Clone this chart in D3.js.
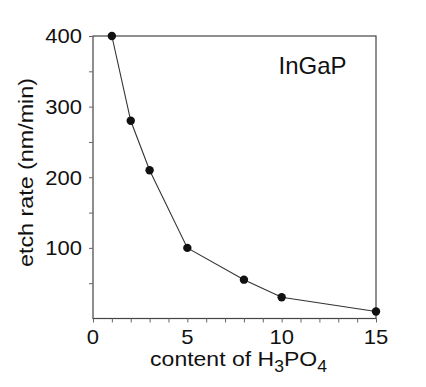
<!DOCTYPE html>
<html>
<head>
<meta charset="utf-8">
<script src="https://cdn.jsdelivr.net/npm/d3@7"></script>
<style>
  body { margin: 0; background: #fff; }
  text { font-family: "Liberation Sans", Arial, sans-serif; fill: #111; }
</style>
</head>
<body>
<svg width="426" height="387"></svg>
<script>
// data
var h3po4 = [1, 2, 3, 5, 8, 10, 15];
var etchRate = [400, 280, 210, 100, 55, 30, 10];
var xTickLabels = [0, 5, 10, 15];
var yTickLabels = [100, 200, 300, 400];

var svg = d3.select('svg');
var x = d3.scaleLinear().domain([0, 15]).range([93, 376]);
var y = d3.scaleLinear().domain([0, 400]).range([318.5, 36]);

// stretch a text element horizontally so it spans the given width
function fitWidth(sel, width, cx) {
  var w = sel.node().getComputedTextLength();
  var k = width / w;
  sel.attr('transform', 'translate(' + cx + ',0) scale(' + k + ',1) translate(' + (-cx) + ',0)');
}

// frame
svg.append('rect')
  .attr('x', x(0)).attr('y', y(400))
  .attr('width', x(15) - x(0)).attr('height', y(0) - y(400))
  .attr('fill', 'none').attr('stroke', '#444').attr('stroke-width', 1.2);

// x axis: minor ticks every unit, labels every 5
var xAxis = svg.append('g').attr('transform', 'translate(0,' + y(0) + ')')
  .call(d3.axisBottom(x).tickValues(d3.range(0, 16, 1)).tickSize(4).tickFormat(''));
xAxis.select('.domain').remove();
xAxis.selectAll('line').attr('stroke', '#666');

svg.selectAll('.xlab').data(xTickLabels).enter().append('text')
  .attr('class', 'xlab')
  .attr('x', function(d) { return x(d); }).attr('y', 344)
  .attr('text-anchor', 'middle').attr('font-size', 20)
  .each(function(d) {
    var t = d3.select(this).text(d);
    fitWidth(t, t.node().getComputedTextLength() * 1.1, x(d));
  });

// y axis: ticks every 50, labels every 100
var yAxis = svg.append('g').attr('transform', 'translate(' + x(0) + ',0)')
  .call(d3.axisLeft(y).tickValues(d3.range(50, 401, 50)).tickSize(4).tickFormat(''));
yAxis.select('.domain').remove();
yAxis.selectAll('line').attr('stroke', '#666');

svg.selectAll('.ylab').data(yTickLabels).enter().append('text')
  .attr('class', 'ylab')
  .attr('x', 82).attr('y', function(d) { return y(d) + 7.3; })
  .attr('text-anchor', 'end').attr('font-size', 20)
  .each(function(d) {
    var t = d3.select(this).text(d);
    fitWidth(t, t.node().getComputedTextLength() * 1.1, 82);
  });

// line + markers
var pts = h3po4.map(function(d, i) { return [d, etchRate[i]]; });
svg.append('path').datum(pts)
  .attr('fill', 'none').attr('stroke', '#333').attr('stroke-width', 1.1)
  .attr('d', d3.line().x(function(d) { return x(d[0]); }).y(function(d) { return y(d[1]); }));

svg.selectAll('circle').data(pts).enter().append('circle')
  .attr('cx', function(d) { return x(d[0]); })
  .attr('cy', function(d) { return y(d[1]); })
  .attr('r', 4.2).attr('fill', '#111');

// labels
svg.append('text').attr('x', 312.5).attr('y', 74).attr('text-anchor', 'middle')
  .attr('font-size', 24).text('InGaP');

svg.append('text')
  .attr('transform', 'translate(33,172.5) rotate(-90)')
  .attr('text-anchor', 'middle').attr('font-size', 20)
  .attr('textLength', 189).attr('lengthAdjust', 'spacingAndGlyphs')
  .text('etch rate (nm/min)');

var xl = svg.append('text').attr('x', 238.5).attr('y', 366)
  .attr('text-anchor', 'middle').attr('font-size', 21);
xl.append('tspan').text('content of H');
xl.append('tspan').attr('font-size', 16).attr('dy', 6).text('3');
xl.append('tspan').attr('dy', -6).text('PO');
xl.append('tspan').attr('font-size', 16).attr('dy', 6).text('4');
fitWidth(xl, 177, 238.5);
</script>
</body>
</html>
